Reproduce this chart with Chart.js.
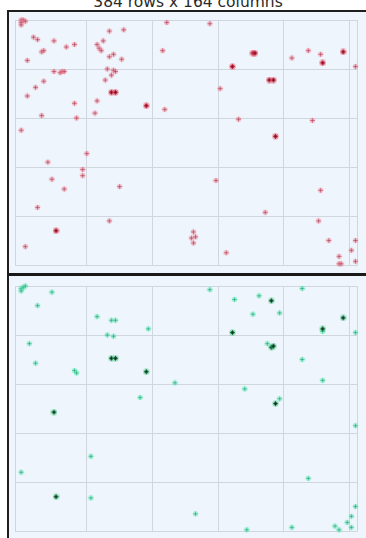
<!DOCTYPE html>
<html>
<head>
<meta charset="utf-8">
<script src="https://cdn.jsdelivr.net/npm/chart.js@4.4.1/dist/chart.umd.min.js"></script>
<style>
  html, body { margin: 0; padding: 0; background: #fff; }
  body { width: 366px; height: 538px; overflow: hidden; position: relative; }
  #title {
    position: absolute; left: 0; top: -6px; width: 376px;
    text-align: center; font: 15.5px "DejaVu Sans", sans-serif; line-height: 16px;
    color: #2a2a2a; white-space: nowrap;
  }
  .panel {
    position: absolute; left: 7px; width: 400px;
    background: #eef5fc; border-left: 2px solid #1e1e1e;
  }
  #p1 { top: 10px; height: 263px; border-top: 2px solid #1e1e1e; }
  #p2 { top: 276px; height: 270px; }
  .sep { position: absolute; left: 7px; top: 273px; width: 400px; height: 3px; background: #1a1a1a; }
  canvas { position: absolute; left: 0; top: 0; }
</style>
</head>
<body>
<div id="title">384 rows x 164 columns</div>
<div class="panel" id="p1"><canvas id="topChart" width="357" height="261"></canvas></div>
<div class="sep"></div>
<div class="panel" id="p2"><canvas id="bottomChart" width="357" height="262"></canvas></div>

<script>
// grid positions (column / row index)
const columnGrid = [-3, 32, 64, 96, 128, 160, 164];
const rowGrid = [0, 40, 80, 120, 160, 200];

// upper panel, light entries
const redLightCols = [0, 1, 0, 0, 2, 6, 8, 16, 22, 26, 10, 11, 3, 16, 19, 20, 21, 11, 7, 3, 26, 10, 27, 0, 32, 13, 30, 30, 15, 21, 8, 2, 43, 48, 36, 37, 41, 44, 42, 45, 46, 43, 45, 49, 37, 38, 39, 40, 43, 50, 71, 92, 69, 70, 97, 106, 132, 140, 146, 163, 142, 95, 146, 119, 145, 150, 84, 85, 83, 84, 100, 163, 161, 155, 155, 156, 163];
const redLightRows = [0, 0, 2, 4, 1, 14, 16, 17, 22, 20, 26, 25, 33, 42, 43, 42, 42, 50, 55, 62, 68, 78, 80, 90, 109, 116, 122, 127, 130, 138, 153, 185, 164, 136, 76, 66, 49, 45, 40, 41, 42, 30, 28, 32, 20, 23, 25, 17, 9, 8, 2, 3, 25, 73, 56, 81, 31, 25, 28, 38, 82, 131, 139, 157, 164, 180, 173, 177, 178, 182, 190, 180, 188, 193, 199, 199, 197];

// upper panel, strong entries
const redDarkCols = [17, 44, 46, 61, 103, 113, 114, 121, 123, 124, 147, 157];
const redDarkRows = [172, 59, 59, 70, 38, 27, 27, 49, 49, 95, 35, 26];

// lower panel, light entries
const greenLightCols = [0, 1, 2, 0, 15, 8, 37, 44, 46, 42, 45, 62, 4, 7, 26, 27, 75, 58, 0, 34, 34, 85, 110, 92, 104, 116, 113, 126, 120, 137, 147, 163, 137, 147, 109, 126, 163, 140, 132, 163, 161, 159, 153, 155, 161];
const greenLightRows = [2, 1, 0, 4, 5, 16, 25, 28, 28, 40, 41, 35, 47, 63, 69, 71, 79, 91, 152, 139, 173, 186, 199, 3, 11, 8, 23, 22, 47, 2, 37, 38, 60, 77, 84, 92, 114, 157, 197, 180, 188, 193, 196, 199, 197];

// lower panel, strong entries
const greenDarkCols = [44, 46, 61, 16, 17, 122, 103, 122, 123, 157, 147, 124];
const greenDarkRows = [59, 59, 70, 103, 172, 12, 38, 50, 49, 26, 35, 96];

// small blurred "+" marker drawn on an offscreen canvas
function makeMarker(halo, arm, core, coreSize, r) {
  const c = document.createElement('canvas');
  c.width = 7; c.height = 7;
  const g = c.getContext('2d');
  g.fillStyle = halo;
  g.beginPath(); g.arc(3.5, 3.5, r, 0, Math.PI * 2); g.fill();
  g.fillStyle = arm;
  g.fillRect(3, 1, 1, 5);
  g.fillRect(1, 3, 5, 1);
  g.fillStyle = core;
  g.fillRect(3.5 - coreSize / 2, 3.5 - coreSize / 2, coreSize, coreSize);
  return c;
}

const redLight = makeMarker('rgba(240,120,140,0.4)', 'rgba(222,110,130,0.85)', '#9c5566', 1.6, 2.8);
const redDark = makeMarker('rgba(232,80,100,0.55)', '#c8304a', '#8e0c22', 2.6, 3.2);
const greenLight = makeMarker('rgba(70,230,170,0.4)', 'rgba(70,220,165,0.85)', '#4f8f7a', 1.6, 2.8);
const greenDark = makeMarker('rgba(50,200,120,0.45)', '#1f7a45', '#0c3320', 2.6, 3.2);

function points(cols, rows) {
  return cols.map((c, i) => ({ x: c, y: rows[i] }));
}

function series(cols, rows, marker) {
  return {
    data: points(cols, rows),
    pointStyle: marker,
    pointRadius: 3.5,
    showLine: false,
    clip: false,
  };
}

const gridColor = '#d0d6de';

function panelOptions(padding) {
  return {
    responsive: false,
    animation: false,
    events: [],
    layout: { padding: padding },
    plugins: { legend: { display: false }, tooltip: { enabled: false } },
    scales: {
      x: {
        type: 'linear', min: -3, max: 164,
        ticks: { display: false },
        grid: { color: gridColor, drawTicks: false },
        border: { display: false },
        afterBuildTicks: (s) => { s.ticks = columnGrid.map(v => ({ value: v })); },
      },
      y: {
        type: 'linear', min: 0, max: 200, reverse: true,
        ticks: { display: false },
        grid: { color: gridColor, drawTicks: false },
        border: { display: false },
        afterBuildTicks: (s) => { s.ticks = rowGrid.map(v => ({ value: v })); },
      },
    },
  };
}

// first dataset is painted on top
new Chart(document.getElementById('topChart'), {
  type: 'scatter',
  data: {
    datasets: [
      series(redDarkCols, redDarkRows, redDark),
      series(redLightCols, redLightRows, redLight),
    ],
  },
  options: panelOptions({ left: 6, top: 8, right: 8.5, bottom: 8 }),
});

new Chart(document.getElementById('bottomChart'), {
  type: 'scatter',
  data: {
    datasets: [
      series(greenDarkCols, greenDarkRows, greenDark),
      series(greenLightCols, greenLightRows, greenLight),
    ],
  },
  options: panelOptions({ left: 6, top: 10, right: 8.5, bottom: 7 }),
});
</script>
</body>
</html>
